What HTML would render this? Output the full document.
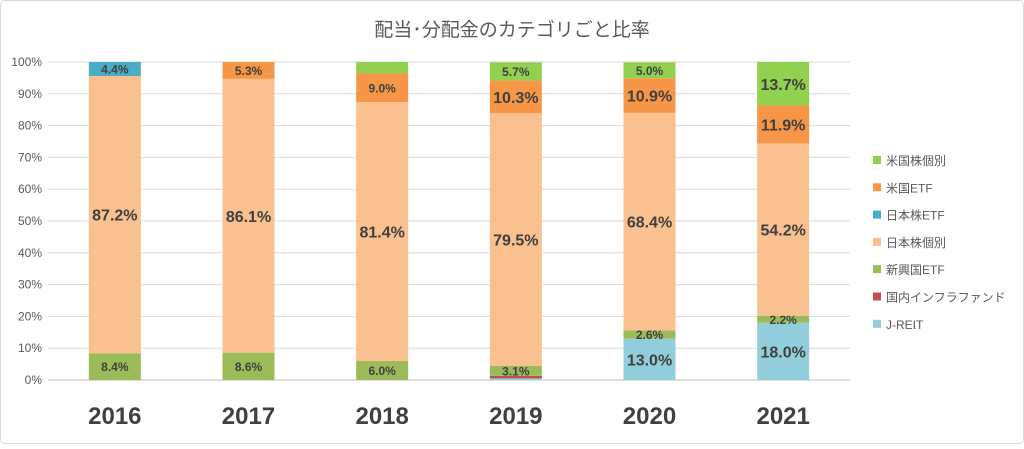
<!DOCTYPE html>
<html><head><meta charset="utf-8"><style>
body{margin:0;background:#fff;font-family:"Liberation Sans","Noto Sans CJK JP",sans-serif}
#c{width:1024px;height:444px;position:relative}
</style></head><body>
<div id="c">
<svg id="svg" width="1024" height="444">
<rect x="0.5" y="0.5" width="1023" height="443" rx="4" fill="#fff" stroke="#d9d9d9"/>
<text x="512" y="36" text-anchor="middle" font-size="19" fill="#595959" font-family="Liberation Sans, Noto Sans CJK JP, sans-serif">配当･分配金のカテゴリごと比率</text>
<g id="grid"></g><g id="bars"></g><g id="legend"></g>
</svg></div>
<script>
const years=["2016","2017","2018","2019","2020","2021"];
const seriesNames=["J-REIT","国内インフラファンド","新興国ETF","日本株個別","日本株ETF","米国ETF","米国株個別"];
const seriesColors=["#92cddc","#c0504d","#9bbb59","#fac090","#4bacc6","#f79646","#92d050"];
const jreit=[0,0,0,0.5,13.0,18.0];
const infra=[0,0,0,0.8,0,0];
const emerging=[8.4,8.6,6.0,3.1,2.6,2.2];
const jpStocks=[87.2,86.1,81.4,79.5,68.4,54.2];
const jpEtf=[4.4,0,0,0,0,0];
const usEtf=[0,5.3,9.0,10.3,10.9,11.9];
const usStocks=[0,0,3.6,5.7,5.0,13.7];
const yTicks=[0,10,20,30,40,50,60,70,80,90,100];
const series=[jreit,infra,emerging,jpStocks,jpEtf,usEtf,usStocks];
const NS="http://www.w3.org/2000/svg";
const x0=48,x1=850,yTop=62,yBot=380,barW=52;
const y=v=>yBot-(v/100)*(yBot-yTop);
const xc=i=>x0+(x1-x0)/years.length*(i+0.5);
function mk(t,a,p){const e=document.createElementNS(NS,t);for(const k in a)e.setAttribute(k,a[k]);p.appendChild(e);return e;}
const grid=document.getElementById('grid');
yTicks.forEach(t=>{
  const l=mk('line',{x1:x0,x2:x1,y1:y(t),y2:y(t),stroke:t===0?'#bfbfbf':'#d9d9d9','stroke-width':1},grid);
  
  
  const tx=mk('text',{x:42,y:y(t)+4,'text-anchor':'end','font-size':12,fill:'#595959'},grid);
  tx.textContent=t+'%';
  
  
});
const bars=document.getElementById('bars');
years.forEach((yr,i)=>{
  let cum=0;
  series.forEach((s,k)=>{
    const v=s[i]; if(v<=0)return;
    const r=mk('rect',{x:xc(i)-barW/2,y:y(cum+v),width:barW,height:y(cum)-y(cum+v),fill:seriesColors[k]},bars);
    
    
    if(v>=2 && !(i===2&&k===6)){
      const t=mk('text',{x:xc(i),y:(y(cum)+y(cum+v))/2+(v>10?6:4.5),'text-anchor':'middle','font-size':v>10?16:12,'font-weight':'bold',fill:'#404040'},bars);
      t.textContent=v.toFixed(1)+'%';
      
      
    }
    cum+=v;
  });
  const xl=mk('text',{x:xc(i),y:424,'text-anchor':'middle','font-size':24,'font-weight':'bold',fill:'#404040'},bars);
  xl.textContent=yr;
  
  
});
const lg=document.getElementById('legend');
const order=[6,5,4,3,2,1,0];
order.forEach((k,j)=>{
  const yy=161+j*27.3;
  const r=mk('rect',{x:873,y:yy-5,width:8,height:8,fill:seriesColors[k]},lg);
  
  
  const t=mk('text',{x:886,y:yy+4,'font-size':12,fill:'#595959'},lg);
  t.textContent=seriesNames[k];
  
  
});
</script>
</body></html>
